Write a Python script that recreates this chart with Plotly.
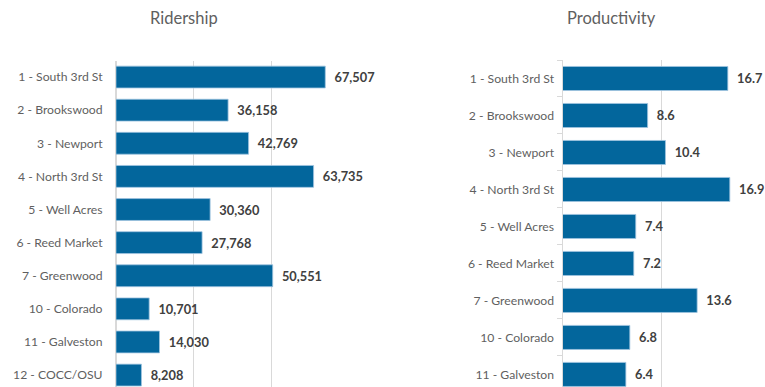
import plotly.graph_objects as go

routes_rider = ["1 - South 3rd St", "2 - Brookswood", "3 - Newport", "4 - North 3rd St",
                "5 - Well Acres", "6 - Reed Market", "7 - Greenwood", "10 - Colorado",
                "11 - Galveston", "12 - COCC/OSU"]
ridership = [67507, 36158, 42769, 63735, 30360, 27768, 50551, 10701, 14030, 8208]

routes_prod = ["1 - South 3rd St", "2 - Brookswood", "3 - Newport", "4 - North 3rd St",
               "5 - Well Acres", "6 - Reed Market", "7 - Greenwood", "10 - Colorado",
               "11 - Galveston"]
productivity = [16.7, 8.6, 10.4, 16.9, 7.4, 7.2, 13.6, 6.8, 6.4]

W, H = 765, 387
BAR = "#03669c"
EDGE = "#9fc4e0"
GRID = "#d9d9d9"
LBL = "#5f5f5f"
VAL = "#404040"
FONT = "Lato, 'Open Sans', sans-serif"

fig = go.Figure()

fig.add_trace(go.Bar(
    x=ridership, y=routes_rider, orientation="h",
    marker=dict(color=BAR, line=dict(color=EDGE, width=0.8)),
    text=["  " + f"{v:,}" for v in ridership], textposition="outside",
    textfont=dict(family=FONT, size=12.8, color=VAL, weight="bold"),
    constraintext="none", cliponaxis=False, width=0.66,
    xaxis="x", yaxis="y", showlegend=False, hoverinfo="skip"))

fig.add_trace(go.Bar(
    x=productivity, y=routes_prod, orientation="h",
    marker=dict(color=BAR, line=dict(color=EDGE, width=0.8)),
    text=["  " + f"{v:.1f}" for v in productivity], textposition="outside",
    textfont=dict(family=FONT, size=12.8, color=VAL, weight="bold"),
    constraintext="none", cliponaxis=False, width=0.65,
    xaxis="x2", yaxis="y2", showlegend=False, hoverinfo="skip"))

x0L, x1L = 116.0, 116.0 + 72000 * 77.5 / 25000
x0R, x1R = 562.5, 760.5 + 0.5
topL, topR = 60.5, 60.0

fig.update_layout(
    width=W, height=H, margin=dict(l=0, r=0, t=0, b=0),
    paper_bgcolor="white", plot_bgcolor="white",
    font=dict(family=FONT, color=LBL),
    xaxis=dict(domain=[x0L / W, x1L / W], range=[0, 72000], dtick=25000,
               showgrid=True, gridcolor=GRID, gridwidth=1, zeroline=True,
               zerolinecolor=GRID, zerolinewidth=1, showticklabels=False,
               anchor="y"),
    yaxis=dict(domain=[0, 1 - topL / H], type="category",
               categoryorder="array", categoryarray=routes_rider,
               range=[len(routes_rider) - 0.64, -0.5],
               showline=True, linecolor=GRID, linewidth=1, ticks="",
               tickfont=dict(family=FONT, size=12.2, color=LBL),
               ticklabelstandoff=10, anchor="x"),
    xaxis2=dict(domain=[x0R / W, x1R / W], range=[0, 20.05], dtick=10,
                showgrid=True, gridcolor=GRID, gridwidth=1, zeroline=True,
                zerolinecolor=GRID, zerolinewidth=1, showticklabels=False,
                anchor="y2"),
    yaxis2=dict(domain=[0, 1 - topR / H], type="category",
                categoryorder="array", categoryarray=routes_prod,
                range=[len(routes_prod) - 0.66, -0.5],
                showline=True, linecolor=GRID, linewidth=1,
                ticks="outside", tickson="boundaries", ticklen=5, tickcolor=GRID,
                tickfont=dict(family=FONT, size=12.2, color=LBL),
                ticklabelstandoff=5, anchor="x2"),
    annotations=[
        dict(text="Ridership", x=184 / W, y=1 - 18 / H, xref="paper", yref="paper",
             xanchor="center", yanchor="middle", showarrow=False,
             font=dict(family=FONT, size=16.5, color=LBL)),
        dict(text="Productivity", x=611 / W, y=1 - 18 / H, xref="paper", yref="paper",
             xanchor="center", yanchor="middle", showarrow=False,
             font=dict(family=FONT, size=16.5, color=LBL)),
    ],
)

fig.write_html("out.html")
